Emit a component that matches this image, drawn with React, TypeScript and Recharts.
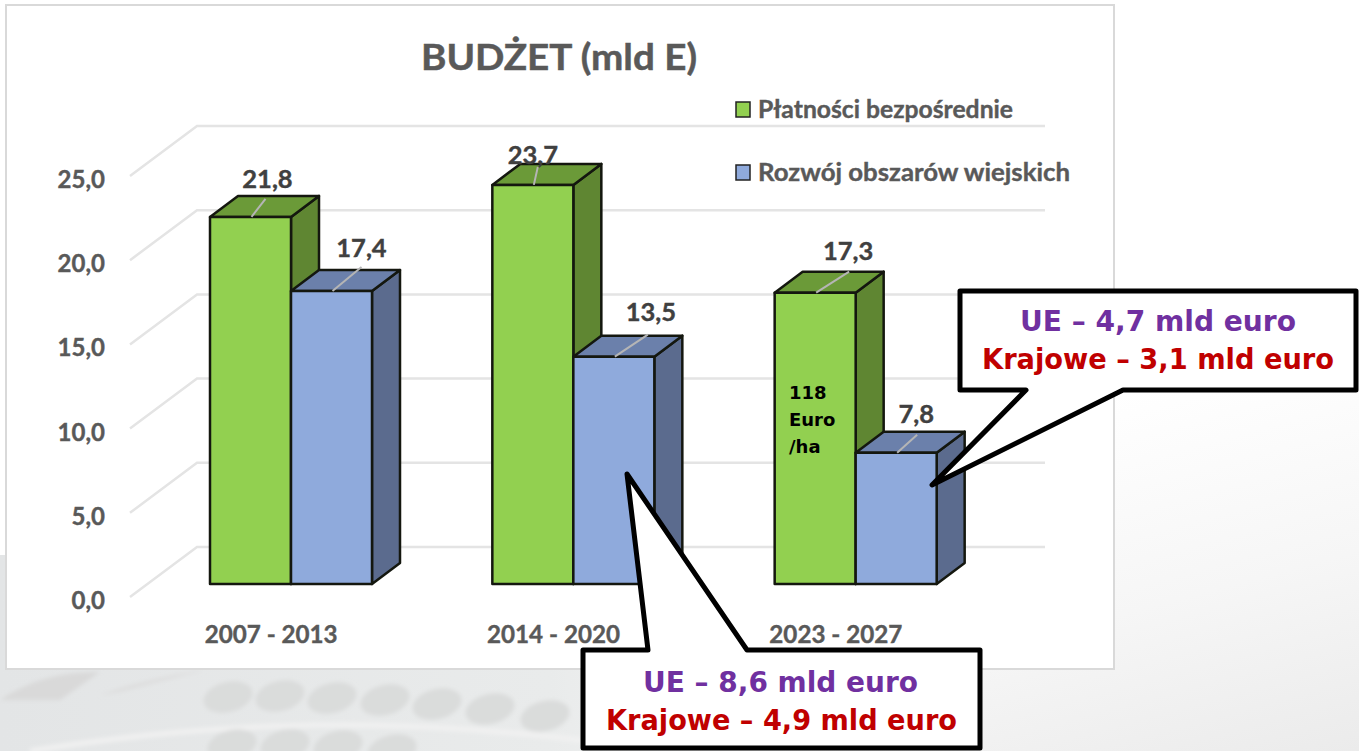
import { Bar, BarChart, CartesianGrid, LabelList, XAxis, YAxis } from "recharts";

const periods = ["2007 - 2013", "2014 - 2020", "2023 - 2027"];
const directPayments = [21.8, 23.7, 17.3];
const ruralDevelopment = [17.4, 13.5, 7.8];
const valueTicks = [0, 5, 10, 15, 20, 25];
const seriesNames = ["Płatności bezpośrednie", "Rozwój obszarów wiejskich"];

const data = periods.map((period, i) => ({
  period,
  direct: directPayments[i],
  rural: ruralDevelopment[i],
}));

const FONT = "Lato, sans-serif";
const HAND = "'DejaVu Sans', sans-serif";
const DEPTH_X = 28;
const DEPTH_Y = 21;
const GRID = "#e4e4e4";
const TEXT = "#595959";

const green = { front: "#92d050", top: "#6b9a38", side: "#5f8632" };
const blue = { front: "#8faadc", top: "#6b80ab", side: "#5b6b8e" };

// hand placed label offsets from the bar's top centre: label x, label y, leader end x, leader end y
const directNudge = [
  [17, -38, 15, -18],
  [0, -30, 5, -18],
  [33, -42, 34, -21],
];
const ruralNudge = [
  [30, -43, 30, -24],
  [37, -45, 34, -22],
  [20, -39, 21, -18],
];

const fmt = (v: number) => v.toFixed(1).replace(".", ",");

function Bar3D(props: any) {
  const { x, y, width, height, colors } = props;
  const dark = "#14170f";
  const pts = (a: number[][]) => a.map((p) => p.join(",")).join(" ");
  return (
    <g stroke={dark} strokeWidth={2.5} strokeLinejoin="round">
      <polygon
        fill={colors.side}
        points={pts([
          [x + width, y],
          [x + width + DEPTH_X, y - DEPTH_Y],
          [x + width + DEPTH_X, y + height - DEPTH_Y],
          [x + width, y + height],
        ])}
      />
      <polygon
        fill={colors.top}
        points={pts([
          [x, y],
          [x + DEPTH_X, y - DEPTH_Y],
          [x + width + DEPTH_X, y - DEPTH_Y],
          [x + width, y],
        ])}
      />
      <rect x={x} y={y} width={width} height={height} fill={colors.front} />
    </g>
  );
}

// the wall and floor of the 3D plot, one bent line per grid value
function WallLine(props: any) {
  const { y1 } = props;
  return (
    <polyline
      points={`130,${y1 + 13} 197,${y1 - 37} 1045,${y1 - 37}`}
      fill="none"
      stroke={GRID}
      strokeWidth={2.5}
    />
  );
}

function ValueTick(props: any) {
  const { y, payload } = props;
  return (
    <text
      x={105}
      y={y + 25}
      textAnchor="end"
      fontFamily={FONT}
      fontWeight={700}
      fontSize={24}
      fill={TEXT}
      stroke={TEXT}
      strokeWidth={0.4}
    >
      {fmt(payload.value)}
    </text>
  );
}

function PeriodTick(props: any) {
  const { x, payload } = props;
  return (
    <text
      x={x - 20}
      y={643}
      textAnchor="middle"
      textLength={133}
      lengthAdjust="spacingAndGlyphs"
      fontFamily={FONT}
      fontWeight={700}
      fontSize={24}
      fill={TEXT}
      stroke={TEXT}
      strokeWidth={0.4}
    >
      {payload.value}
    </text>
  );
}

function makeValueLabel(nudges: number[][]) {
  return function ValueLabel(props: any) {
    const { x, y, width, value, index } = props;
    const [lx, ly, ex, ey] = nudges[index];
    const cx = x + width / 2;
    return (
      <g>
        <line x1={cx + 1} y1={y} x2={cx + ex} y2={y + ey} stroke="#b5b5b5" strokeWidth={2} />
        <text
          x={cx + lx}
          y={y + ly + 9}
          textAnchor="middle"
          fontFamily={FONT}
          fontWeight={700}
          fontSize={25.5}
          fill="#404040"
          stroke="#404040"
          strokeWidth={0.4}
        >
          {fmt(value)}
        </text>
      </g>
    );
  };
}

function Callout({ d, lines }: { d: string; lines: { text: string; x1: number; x2: number; y: number; color: string }[] }) {
  return (
    <g>
      <path d={d} fill="#fff" stroke="#000" strokeWidth={5} strokeLinejoin="round" />
      {lines.map((l) => (
        <text
          key={l.text}
          x={l.x1}
          y={l.y}
          textLength={l.x2 - l.x1}
          lengthAdjust="spacingAndGlyphs"
          fontFamily={HAND}
          fontWeight={700}
          fontSize={28}
          fill={l.color}
        >
          {l.text}
        </text>
      ))}
    </g>
  );
}

const wheatRows = [
  [228, 697], [280, 696], [332, 698], [385, 700], [437, 704], [490, 709], [545, 716],
  [232, 745], [285, 745], [338, 746], [392, 750],
];

export default function App() {
  return (
    <div
      style={{
        position: "absolute",
        left: 0,
        top: 0,
        width: 1359,
        height: 751,
        overflow: "hidden",
        background: "linear-gradient(165deg, #ffffff 0%, #ffffff 62%, #f6f6f6 82%, #ebebeb 100%)",
      }}
    >
      <svg width={1359} height={751} style={{ position: "absolute", left: 0, top: 0 }}>
        <defs>
          <filter id="soft">
            <feGaussianBlur stdDeviation="2" />
          </filter>
          <linearGradient id="fadeX" x1="0" x2="1" y1="0" y2="0">
            <stop offset="0" stopColor="#e3e5e6" />
            <stop offset="0.55" stopColor="#e9ebeb" />
            <stop offset="1" stopColor="#f3f3f3" stopOpacity={0} />
          </linearGradient>
        </defs>
        <rect x={0} y={555} width={1000} height={196} fill="url(#fadeX)" />
        <g filter="url(#soft)">
          <path d="M0,700 C30,680 60,672 100,672 L60,700 Z" fill="#d9d9d9" />
          <path d="M100,695 C140,680 190,672 205,670 L120,692 Z" fill="#dddddd" />
          <path d="M30,751 C220,720 400,715 620,745" fill="none" stroke="#f1f1f1" strokeWidth={5} />
          {wheatRows.map(([cx, cy]) => (
            <ellipse key={`${cx}-${cy}`} cx={cx} cy={cy} rx={25} ry={15} fill="#dadcdb" transform={`rotate(-14 ${cx} ${cy})`} />
          ))}
        </g>
      </svg>
      <div
        style={{
          position: "absolute",
          left: 5,
          top: 4,
          width: 1106,
          height: 662,
          background: "#fff",
          border: "2px solid #d9d9d9",
        }}
      />
      <div style={{ position: "absolute", left: 0, top: 0 }}>
        <BarChart
          width={1359}
          height={751}
          data={data}
          margin={{ top: 163, right: 362, bottom: 137, left: 110 }}
          barSize={81}
          barGap={0}
        >
          <CartesianGrid vertical={false} horizontal={(p: any) => <WallLine key={p.y1} {...p} />} />
          <YAxis
            type="number"
            domain={[0, 25]}
            ticks={valueTicks}
            width={40}
            axisLine={false}
            tickLine={false}
            tick={<ValueTick />}
            interval={0}
          />
          <XAxis dataKey="period" height={30} axisLine={false} tickLine={false} tick={<PeriodTick />} interval={0} />
          <Bar dataKey="direct" name={seriesNames[0]} isAnimationActive={false} shape={<Bar3D colors={green} />}>
            <LabelList dataKey="direct" content={makeValueLabel(directNudge)} />
          </Bar>
          <Bar dataKey="rural" name={seriesNames[1]} isAnimationActive={false} shape={<Bar3D colors={blue} />}>
            <LabelList dataKey="rural" content={makeValueLabel(ruralNudge)} />
          </Bar>
        </BarChart>
      </div>
      <svg width={1359} height={751} style={{ position: "absolute", left: 0, top: 0 }}>
        <text
          x={559}
          y={70}
          textAnchor="middle"
          textLength={276}
          lengthAdjust="spacingAndGlyphs"
          fontFamily={FONT}
          fontWeight={700}
          fontSize={37}
          fill={TEXT}
          stroke={TEXT}
          strokeWidth={0.5}
        >
          BUDŻET (mld E)
        </text>
        <rect x={736} y={102} width={14} height={15} fill={green.front} stroke="#222" strokeWidth={1.5} />
        <text
          x={758}
          y={118}
          textLength={255}
          lengthAdjust="spacingAndGlyphs"
          fontFamily={FONT}
          fontWeight={700}
          fontSize={24.5}
          fill={TEXT}
          stroke={TEXT}
          strokeWidth={0.4}
        >
          {seriesNames[0]}
        </text>
        <rect x={736} y={165} width={14} height={15} fill={blue.front} stroke="#222" strokeWidth={1.5} />
        <text
          x={758}
          y={181}
          textLength={312}
          lengthAdjust="spacingAndGlyphs"
          fontFamily={FONT}
          fontWeight={700}
          fontSize={24.5}
          fill={TEXT}
          stroke={TEXT}
          strokeWidth={0.4}
        >
          {seriesNames[1]}
        </text>
        <g fontFamily={HAND} fontWeight={700} fontSize={18} fill="#000">
          <text x={789} y={399}>118</text>
          <text x={789} y={426}>Euro</text>
          <text x={789} y={453}>/ha</text>
        </g>
        <Callout
          d="M960,291 H1356 V390 H1123 L932,485 L1026,390 H960 Z"
          lines={[
            { text: "UE – 4,7 mld euro", x1: 1020, x2: 1296, y: 331, color: "#7030a0" },
            { text: "Krajowe – 3,1 mld euro", x1: 982, x2: 1334, y: 369, color: "#c00000" },
          ]}
        />
        <Callout
          d="M583,650 H648 L627,474 L747,650 H980 V748 H583 Z"
          lines={[
            { text: "UE – 8,6 mld euro", x1: 643, x2: 918, y: 692, color: "#7030a0" },
            { text: "Krajowe – 4,9 mld euro", x1: 606, x2: 957, y: 730, color: "#c00000" },
          ]}
        />
      </svg>
    </div>
  );
}
